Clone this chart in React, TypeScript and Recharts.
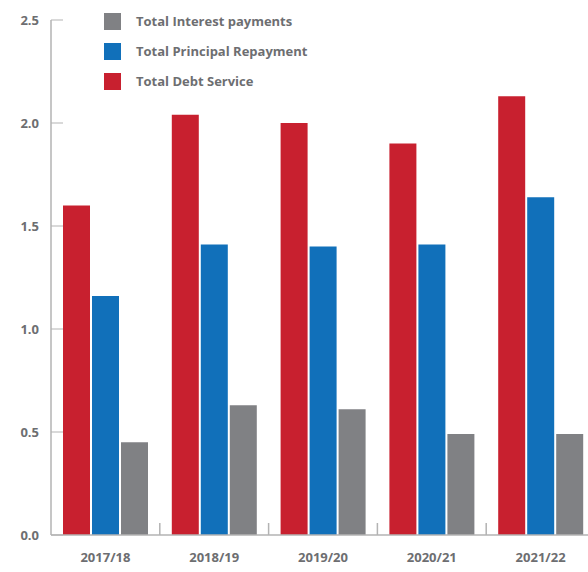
import { BarChart, Bar, XAxis, YAxis } from "recharts";

const years = ["2017/18", "2018/19", "2019/20", "2020/21", "2021/22"];
const debtService = [1.6, 2.04, 2.0, 1.9, 2.13];
const principal = [1.16, 1.41, 1.4, 1.41, 1.64];
const interest = [0.45, 0.63, 0.61, 0.49, 0.49];
const yTicks = [0, 0.5, 1, 1.5, 2, 2.5];

const RED = "#C8202F";
const BLUE = "#1170BA";
const GREY = "#808184";
const TEXT = "#6d6e71";
const AXIS = "#b3b3b3";

const legendItems = [
  { label: "Total Interest payments", color: GREY },
  { label: "Total Principal Repayment", color: BLUE },
  { label: "Total Debt Service", color: RED },
];

const data = years.map((year, i) => ({
  year,
  debt: debtService[i],
  principal: principal[i],
  interest: interest[i],
}));

const font = "'Open Sans', sans-serif";

function YTick(props: any) {
  const { x, y, payload } = props;
  return (
    <g>
      <line x1={x} x2={x + 12} y1={y} y2={y} stroke={AXIS} strokeWidth={1} />
      <text
        x={x - 12}
        y={y}
        dy={5}
        textAnchor="end"
        fill={TEXT}
        fontSize={13}
        fontWeight={700}
        fontFamily={font}
      >
        {Number(payload.value).toFixed(1)}
      </text>
    </g>
  );
}

function XTick(props: any) {
  const { x, y, payload, index } = props;
  const half = payload.offset || 54;
  return (
    <g>
      {index < years.length - 1 && (
        <line
          x1={x + half}
          x2={x + half}
          y1={y - 12}
          y2={y}
          stroke={AXIS}
          strokeWidth={1.5}
        />
      )}
      <text
        x={x}
        y={y + 27}
        textAnchor="middle"
        fill={TEXT}
        fontSize={13}
        fontWeight={700}
        fontFamily={font}
      >
        {payload.value}
      </text>
    </g>
  );
}

export default function App() {
  return (
    <div
      style={{
        position: "absolute",
        left: 0,
        top: 0,
        width: 588,
        height: 572,
        overflow: "hidden",
        background: "#fff",
      }}
    >
      <BarChart
        width={595}
        height={572}
        data={data}
        margin={{ top: 20, right: 0, bottom: 0, left: 0 }}
        barCategoryGap="10%"
        barGap={2}
      >
        <YAxis
          domain={[0, 2.5]}
          ticks={yTicks}
          width={51}
          tickSize={0}
          tickMargin={0}
          tickLine={false}
          axisLine={{ stroke: AXIS, strokeWidth: 1.5 }}
          tick={<YTick />}
          interval={0}
        />
        <XAxis
          dataKey="year"
          height={37}
          tickSize={0}
          tickMargin={0}
          tickLine={false}
          axisLine={{ stroke: AXIS, strokeWidth: 1.5 }}
          tick={<XTick />}
          interval={0}
        />
        <Bar dataKey="debt" fill={RED} barSize={27} isAnimationActive={false} />
        <Bar dataKey="principal" fill={BLUE} barSize={27} isAnimationActive={false} />
        <Bar dataKey="interest" fill={GREY} barSize={27} isAnimationActive={false} />
      </BarChart>
      {legendItems.map((item, i) => (
        <div
          key={item.label}
          style={{
            position: "absolute",
            left: 104,
            top: 12 + i * 30,
            display: "flex",
            alignItems: "center",
            fontFamily: font,
            fontSize: 13,
            fontWeight: 700,
            color: TEXT,
          }}
        >
          <span
            style={{
              display: "inline-block",
              width: 17,
              height: 17,
              background: item.color,
              marginRight: 15,
            }}
          />
          {item.label}
        </div>
      ))}
    </div>
  );
}
